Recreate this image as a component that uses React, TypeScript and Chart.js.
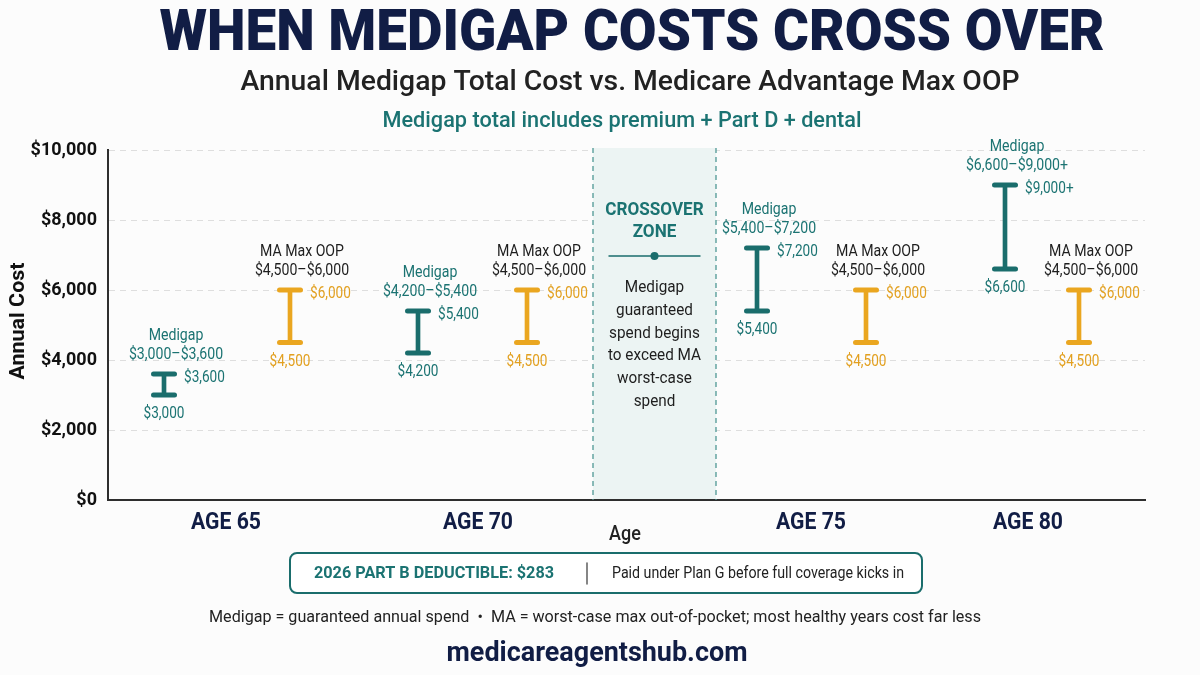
import React, { useEffect, useRef } from 'react';
import { Chart, registerables } from 'chart.js';

Chart.register(...registerables);

// ---------- data ----------
const AGE_LABELS = ['AGE 65', 'AGE 70', 'AGE 75', 'AGE 80'];
const MEDIGAP_LOW = [3000, 4200, 5400, 6600];
const MEDIGAP_HIGH = [3600, 5400, 7200, 9000];
const MEDIGAP_HIGH_TEXT = ['$3,600', '$5,400', '$7,200', '$9,000+'];
const MA_LOW = [4500, 4500, 4500, 4500];
const MA_HIGH = [6000, 6000, 6000, 6000];
const Y_MIN = 0;
const Y_MAX = 10000;
const Y_STEP = 2000;
const ZONE_TITLE = ['CROSSOVER', 'ZONE'];
const ZONE_BODY = ['Medigap', 'guaranteed', 'spend begins', 'to exceed MA', 'worst-case', 'spend'];

// ---------- layout (horizontal positions in x-scale units) ----------
const X_MIN = 0;
const X_MAX = 1037;
const AGE_X = [118, 370, 703, 920];
const MEDIGAP_X = [56, 310, 649, 897];
const MA_X = [182, 419, 758, 971];
const ZONE_X = [485, 608];

// ---------- style ----------
const F = 'Roboto, "Noto Sans", "DejaVu Sans", sans-serif';
const NAVY = '#111d45';
const TEAL = '#1a6d6c';
const TEAL_TEXT = '#1b7372';
const ORANGE = '#eaa620';
const ORANGE_TEXT = '#e2a020';
const DARK = '#1e1e1e';

const fmt = (v: number) => '$' + v.toLocaleString('en-US');

function txt(
  ctx: CanvasRenderingContext2D,
  s: string,
  x: number,
  y: number,
  font: string,
  color: string,
  align: CanvasTextAlign = 'center',
  opts: { sx?: number; w?: number } = {}
) {
  ctx.save();
  ctx.font = font;
  ctx.fillStyle = color;
  ctx.textBaseline = 'middle';
  ctx.textAlign = align;
  let sx = opts.sx ?? 1;
  if (opts.w) sx = opts.w / ctx.measureText(s).width;
  ctx.translate(x, y);
  ctx.scale(sx, 1);
  ctx.fillText(s, 0, 0);
  ctx.restore();
}

const bgPlugin = {
  id: 'bg',
  beforeDraw(chart: any) {
    const ctx = chart.ctx;
    ctx.save();
    ctx.fillStyle = '#fcfcfc';
    ctx.fillRect(0, 0, chart.width, chart.height);
    ctx.restore();
  },
};

const zonePlugin = {
  id: 'zone',
  beforeDatasetsDraw(chart: any) {
    const { ctx, chartArea, scales } = chart;
    const x0 = scales.x.getPixelForValue(ZONE_X[0]);
    const x1 = scales.x.getPixelForValue(ZONE_X[1]);
    ctx.save();
    ctx.fillStyle = '#ecf4f3';
    ctx.fillRect(x0, chartArea.top - 2, x1 - x0, chartArea.bottom - chartArea.top + 1);
    ctx.strokeStyle = '#4f9894';
    ctx.lineWidth = 1.3;
    ctx.setLineDash([5, 4]);
    [x0, x1].forEach((x) => {
      ctx.beginPath();
      ctx.moveTo(x, chartArea.top - 2);
      ctx.lineTo(x, chartArea.bottom);
      ctx.stroke();
    });
    ctx.setLineDash([]);
    const cx = (x0 + x1) / 2;
    const top = chartArea.top;
    ZONE_TITLE.forEach((s, i) => {
      txt(ctx, s, cx, top + 60 + i * 22, `bold 19px ${F}`, TEAL_TEXT, 'center', { sx: 0.9 });
    });
    ctx.strokeStyle = TEAL;
    ctx.lineWidth = 1.5;
    ctx.beginPath();
    ctx.moveTo(cx - 46, top + 106);
    ctx.lineTo(cx + 46, top + 106);
    ctx.stroke();
    ctx.fillStyle = TEAL;
    ctx.beginPath();
    ctx.arc(cx, top + 106, 4, 0, Math.PI * 2);
    ctx.fill();
    ZONE_BODY.forEach((s, i) => {
      txt(ctx, s, cx, top + 138 + i * 22.7, `17px ${F}`, DARK, 'center', { sx: 0.9 });
    });
    ctx.restore();
    // rounded ends for the I-beam caps drawn next
    ctx.lineCap = 'round';
  },
};

const textPlugin = {
  id: 'texts',
  afterDraw(chart: any) {
    const { ctx, scales, chartArea } = chart;
    const xs = scales.x;
    const ys = scales.y;

    // titles
    txt(ctx, 'WHEN MEDIGAP COSTS CROSS OVER', 632, 35, `900 58px ${F}`, NAVY, 'center', { w: 945 });
    txt(ctx, 'Annual Medigap Total Cost vs. Medicare Advantage Max OOP', 630, 83, `500 27px ${F}`, '#222', 'center', { w: 779 });
    txt(ctx, 'Medigap total includes premium + Part D + dental', 622, 121, `500 22px ${F}`, TEAL_TEXT, 'center', { w: 479 });

    // y axis title
    ctx.save();
    ctx.translate(19, 321);
    ctx.rotate(-Math.PI / 2);
    txt(ctx, 'Annual Cost', 0, 0, `bold 21px ${F}`, '#111', 'center', { w: 117 });
    ctx.restore();

    // x labels
    AGE_LABELS.forEach((s, i) => {
      txt(ctx, s, xs.getPixelForValue(AGE_X[i]), chartArea.bottom + 23, `bold 23px ${F}`, NAVY, 'center', { w: 70 });
    });
    txt(ctx, 'Age', 625, chartArea.bottom + 35, `500 20px ${F}`, '#222', 'center', { sx: 0.9 });

    // range annotations
    const annotate = (
      bx: number,
      lo: number,
      hi: number,
      name: string,
      hiText: string,
      nameColor: string,
      valColor: string
    ) => {
      const px = xs.getPixelForValue(bx);
      const yTop = ys.getPixelForValue(hi);
      const yBot = ys.getPixelForValue(lo);
      txt(ctx, name, px + 12, yTop - 38, `17px ${F}`, nameColor, 'center', { sx: 0.83 });
      txt(ctx, `${fmt(lo)}–${hiText}`, px + 12, yTop - 19, `17px ${F}`, nameColor, 'center', { sx: 0.83 });
      txt(ctx, hiText, px + 20, yTop + 4, `16px ${F}`, valColor, 'left', { sx: 0.85 });
      txt(ctx, fmt(lo), px, yBot + 19, `16px ${F}`, valColor, 'center', { sx: 0.85 });
    };
    AGE_LABELS.forEach((_, i) => {
      annotate(MEDIGAP_X[i], MEDIGAP_LOW[i], MEDIGAP_HIGH[i], 'Medigap', MEDIGAP_HIGH_TEXT[i], TEAL_TEXT, TEAL_TEXT);
      annotate(MA_X[i], MA_LOW[i], MA_HIGH[i], 'MA Max OOP', fmt(MA_HIGH[i]), DARK, ORANGE_TEXT);
    });

    // deductible box
    ctx.save();
    ctx.fillStyle = '#ffffff';
    ctx.strokeStyle = TEAL;
    ctx.lineWidth = 2;
    ctx.beginPath();
    (ctx as any).roundRect(290, 553, 632, 40, 7);
    ctx.fill();
    ctx.stroke();
    ctx.strokeStyle = '#444';
    ctx.lineWidth = 1.3;
    ctx.beginPath();
    ctx.moveTo(587, 563);
    ctx.lineTo(587, 584);
    ctx.stroke();
    ctx.restore();
    txt(ctx, '2026 PART B DEDUCTIBLE: $283', 314, 574, `bold 17px ${F}`, TEAL_TEXT, 'left', { w: 240 });
    txt(ctx, 'Paid under Plan G before full coverage kicks in', 612, 574, `16px ${F}`, '#222', 'left', { w: 292 });

    txt(
      ctx,
      'Medigap = guaranteed annual spend  •  MA = worst-case max out-of-pocket; most healthy years cost far less',
      595,
      618,
      `16px ${F}`,
      '#222',
      'center',
      { w: 772 }
    );
    txt(ctx, 'medicareagentshub.com', 597, 654, `bold 27px ${F}`, NAVY, 'center', { w: 301 });
  },
};

export default function App() {
  const ref = useRef<HTMLCanvasElement>(null);
  useEffect(() => {
    if (!ref.current) return;
    const stems = (xs: number[], lo: number[], hi: number[]) =>
      xs.map((x, i) => ({ x, y: [lo[i], hi[i]] }));
    const caps = (xs: number[], lo: number[], hi: number[]) =>
      xs.flatMap((x, i) => [
        { x, y: lo[i] },
        { x, y: hi[i] },
      ]);
    const chart = new Chart(ref.current, {
      type: 'bar',
      data: {
        datasets: [
          {
            type: 'bar',
            label: 'Medigap',
            data: stems(MEDIGAP_X, MEDIGAP_LOW, MEDIGAP_HIGH) as any,
            backgroundColor: TEAL,
            borderWidth: 0,
            barThickness: 4,
            grouped: false,
          } as any,
          {
            type: 'bar',
            label: 'MA Max OOP',
            data: stems(MA_X, MA_LOW, MA_HIGH) as any,
            backgroundColor: ORANGE,
            borderWidth: 0,
            barThickness: 4,
            grouped: false,
          } as any,
          {
            type: 'scatter',
            label: 'Medigap caps',
            data: caps(MEDIGAP_X, MEDIGAP_LOW, MEDIGAP_HIGH),
            pointStyle: 'line',
            radius: 10.5,
            borderWidth: 5,
            borderColor: TEAL,
            backgroundColor: TEAL,
          } as any,
          {
            type: 'scatter',
            label: 'MA caps',
            data: caps(MA_X, MA_LOW, MA_HIGH),
            pointStyle: 'line',
            radius: 10.5,
            borderWidth: 5,
            borderColor: ORANGE,
            backgroundColor: ORANGE,
          } as any,
        ],
      },
      options: {
        responsive: false,
        animation: false,
        devicePixelRatio: 1,
        events: [],
        layout: { padding: { top: 150, right: 55, bottom: 175, left: 0 } },
        plugins: { legend: { display: false }, tooltip: { enabled: false } },
        scales: {
          x: {
            type: 'linear',
            min: X_MIN,
            max: X_MAX,
            offset: false,
            grid: { display: false, offset: false },
            ticks: { display: false },
            border: { display: true, color: '#2e2e2e', width: 2 },
            afterFit: (s: any) => {
              s.height = 0;
            },
          },
          y: {
            min: Y_MIN,
            max: Y_MAX,
            ticks: {
              stepSize: Y_STEP,
              padding: 11,
              color: '#111',
              font: { family: F, size: 18, weight: 'bold' },
              callback: (v: any) => fmt(Number(v)),
            },
            grid: {
              drawTicks: false,
              color: (c: any) => (c.tick && c.tick.value === 0 ? 'rgba(0,0,0,0)' : '#dedede'),
              lineWidth: 1,
            },
            border: { display: true, color: '#2e2e2e', width: 2, dash: [6, 5] as any },
            afterFit: (s: any) => {
              s.width = 108;
            },
          } as any,
        },
      } as any,
      plugins: [bgPlugin, zonePlugin, textPlugin],
    });
    return () => chart.destroy();
  }, []);
  return (
    <div style={{ position: 'fixed', left: 0, top: 0, width: 1200, height: 675, background: '#fcfcfc' }}>
      <canvas ref={ref} width={1200} height={675} style={{ display: 'block', width: 1200, height: 675 }} />
    </div>
  );
}
